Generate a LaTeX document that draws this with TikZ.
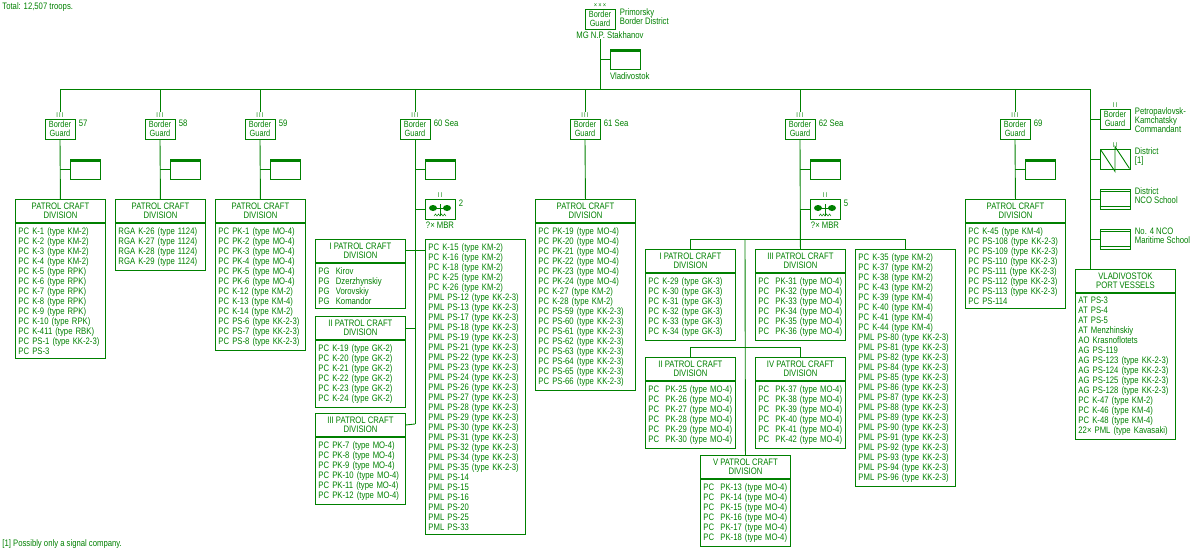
\documentclass[tikz,border=0pt]{standalone}
\usepackage{fontspec}
\setmainfont{Liberation Sans}[FakeStretch=0.82]
\usetikzlibrary{positioning}
\definecolor{pg}{HTML}{008000}
\newcommand\fsz{\fontsize{9.4}{10}\selectfont}
\newcommand\hsz{\fontsize{9.4}{9}\selectfont}
\begin{document}
\begin{tikzpicture}[x=1pt,y=-1pt,line width=0.9pt,color=pg,
  every node/.style={text=pg,font=\fsz},
  hdr/.style={draw=pg,anchor=north west,minimum width=#1,minimum height=23,inner sep=0,align=center,font=\hsz},
  lst/.style={draw=pg,anchor=north west,inner xsep=3,inner ysep=4,align=left,text width=#1-6,minimum width=#1},
  bg/.style={draw=pg,minimum width=30,minimum height=20,inner sep=0,align=center,font=\fontsize{9}{9}\selectfont},
  lvl/.style={anchor=south,inner sep=0.5,font=\fontsize{7}{7}\selectfont},
  num/.style={anchor=north west,inner sep=0},
  hq/.style={draw=pg,minimum width=30,minimum height=20,inner sep=0,
    path picture={\fill[pg] (path picture bounding box.north west) rectangle ([yshift=-3pt]path picture bounding box.north east);}},
  sym/.style={draw=pg,minimum width=30,minimum height=20,inner sep=0},
  side/.style={anchor=north west,inner sep=0,align=left,font=\fontsize{9.4}{9}\selectfont}]
\useasboundingbox (0,0) rectangle (1200,550);

\node[anchor=north west,inner sep=0] (total) at (2,2) {Total: 12,507 troops.};
\node[anchor=north west,inner sep=0] (note) at (2,539) {[1] Possibly only a signal company.};

% top HQ
\node[bg] (bgtop) at (600,19) {Border\\Guard};
\node[lvl] (lvtop) at (bgtop.north) {×\,×\,×};
\node[side] (pbd) at ([xshift=4pt]bgtop.north east) {Primorsky\\Border District};
\node[anchor=north,inner sep=0] (mg) at ([xshift=10pt,yshift=-2pt]bgtop.south) {MG N.P. Stakhanov};
\node[hq] (hqtop) at (625,59) {};
\node[anchor=north west,inner sep=0] (vlad) at ([yshift=-3pt]hqtop.south west) {Vladivostok};
\coordinate (btop) at (600,89);
\draw (mg.south -| bgtop) -- (btop);
\draw (hqtop.west -| bgtop) -- (hqtop.west);

% bus
\coordinate (b57) at (60,89); \coordinate (b58) at (160,89); \coordinate (b59) at (260,89);
\coordinate (b60) at (415,89); \coordinate (b61) at (585,89); \coordinate (b62) at (800,89);
\coordinate (b69) at (1015,89); \coordinate (bR) at (1090,89);
\draw (b57) -- (bR);

% border guard boxes
\foreach \n/\x/\t in {57/60/57,58/160/58,59/260/59,60/415/60 Sea,61/585/61 Sea,62/800/62 Sea,69/1015/69}{
  \node[bg] (bg\n) at (\x,129) {Border\\Guard};
  \node[lvl] (lv\n) at (bg\n.north) {I\,I\,I};
  \node[num] (nm\n) at ([xshift=3pt,yshift=-1pt]bg\n.north east) {\t};
  \draw (b\n) -- (lv\n.north);
}
\foreach \n/\x in {57/60,58/160,59/260,60/415,62/800,69/1015}{
  \node[hq] (hq\n) at (\x+25,169) {};
  \draw (hq\n.west -| bg\n) -- (hq\n.west);
}

% 57
\node[hdr=90] (d57h) at (15,199) {PATROL CRAFT\\DIVISION};
\node[lst=90] (d57) at (d57h.south west) {PC K-1 (type KM-2)\\PC K-2 (type KM-2)\\PC K-3 (type KM-2)\\PC K-4 (type KM-2)\\PC K-5 (type RPK)\\PC K-6 (type RPK)\\PC K-7 (type RPK)\\PC K-8 (type RPK)\\PC K-9 (type RPK)\\PC K-10 (type RPK)\\PC K-411 (type RBK)\\PC PS-1 (type KK-2-3)\\PC PS-3};
\draw (bg57.south) -- (d57h.north);
% 58
\node[hdr=90] (d58h) at (115,199) {PATROL CRAFT\\DIVISION};
\node[lst=90] (d58) at (d58h.south west) {RGA K-26 (type 1124)\\RGA K-27 (type 1124)\\RGA K-28 (type 1124)\\RGA K-29 (type 1124)};
\draw (bg58.south) -- (d58h.north);
% 59
\node[hdr=90] (d59h) at (215,199) {PATROL CRAFT\\DIVISION};
\node[lst=90] (d59) at (d59h.south west) {PC PK-1 (type MO-4)\\PC PK-2 (type MO-4)\\PC PK-3 (type MO-4)\\PC PK-4 (type MO-4)\\PC PK-5 (type MO-4)\\PC PK-6 (type MO-4)\\PC K-12 (type KM-2)\\PC K-13 (type KM-4)\\PC K-14 (type KM-2)\\PC PS-6 (type KK-2-3)\\PC PS-7 (type KK-2-3)\\PC PS-8 (type KK-2-3)};
\draw (bg59.south) -- (d59h.north);

% MBR symbols
\foreach \n/\x/\k in {60/415/2,62/800/5}{
  \node[sym] (mbr\n) at (\x+25,209) {};
  \node[lvl] (lm\n) at (mbr\n.north) {I\,I};
  \node[num] (nmb\n) at ([xshift=3pt,yshift=-1pt]mbr\n.north east) {\k};
  \node[anchor=north,inner sep=0] (mbl\n) at ([yshift=-2pt]mbr\n.south) {?× MBR};
  \fill[pg] ([xshift=-7pt,yshift=1pt]mbr\n.center) ellipse (4 and 3);
  \fill[pg] ([xshift=7pt,yshift=1pt]mbr\n.center) ellipse (4 and 3);
  \draw ([xshift=-8pt,yshift=1pt]mbr\n.center) -- ([xshift=8pt,yshift=1pt]mbr\n.center);
  \draw[line width=0.6pt] ([yshift=-7pt]mbr\n.center) -- ([yshift=5pt]mbr\n.center);
  \draw[line width=0.5pt] ([xshift=-6pt,yshift=-7pt]mbr\n.center) -- ++(1.5,-2) -- ++(1.5,2) -- ++(1.5,-2) -- ++(1.5,2) -- ++(1.5,-2) -- ++(1.5,2) -- ++(1.5,-2) -- ++(1.5,2);
  \draw (mbr\n.west -| bg\n) -- (mbr\n.west);
}

% 60 Sea
\coordinate (c60) at (415,424);
\draw (bg60.south) -- (c60);
\node[hdr=90] (d60ah) at (315,239) {I PATROL CRAFT\\DIVISION};
\node[lst=90] (d60a) at (d60ah.south west) {PG\ \ Kirov\\PG\ \ Dzerzhynskiy\\PG\ \ Vorovskiy\\PG\ \ Komandor};
\node[hdr=90] (d60bh) at (315,316) {II PATROL CRAFT\\DIVISION};
\node[lst=90] (d60b) at (d60bh.south west) {PC K-19 (type GK-2)\\PC K-20 (type GK-2)\\PC K-21 (type GK-2)\\PC K-22 (type GK-2)\\PC K-23 (type GK-2)\\PC K-24 (type GK-2)};
\node[hdr=90] (d60ch) at (315,413) {III PATROL CRAFT\\DIVISION};
\node[lst=90] (d60c) at (d60ch.south west) {PC PK-7 (type MO-4)\\PC PK-8 (type MO-4)\\PC PK-9 (type MO-4)\\PC PK-10 (type MO-4)\\PC PK-11 (type MO-4)\\PC PK-12 (type MO-4)};
\node[lst=100] (l60) at (425,239) {PC K-15 (type KM-2)\\PC K-16 (type KM-2)\\PC K-18 (type KM-2)\\PC K-25 (type KM-2)\\PC K-26 (type KM-2)\\PML PS-12 (type KK-2-3)\\PML PS-13 (type KK-2-3)\\PML PS-17 (type KK-2-3)\\PML PS-18 (type KK-2-3)\\PML PS-19 (type KK-2-3)\\PML PS-21 (type KK-2-3)\\PML PS-22 (type KK-2-3)\\PML PS-23 (type KK-2-3)\\PML PS-24 (type KK-2-3)\\PML PS-26 (type KK-2-3)\\PML PS-27 (type KK-2-3)\\PML PS-28 (type KK-2-3)\\PML PS-29 (type KK-2-3)\\PML PS-30 (type KK-2-3)\\PML PS-31 (type KK-2-3)\\PML PS-32 (type KK-2-3)\\PML PS-34 (type KK-2-3)\\PML PS-35 (type KK-2-3)\\PML PS-14\\PML PS-15\\PML PS-16\\PML PS-20\\PML PS-25\\PML PS-33};
\draw ([yshift=1pt]d60ah.east) -- ([yshift=1pt]d60ah.east -| l60.west);
\draw (d60bh.east) -- (d60bh.east -| c60);
\draw (d60ch.east) -- (c60);

% 61 Sea
\node[hdr=100] (d61h) at (535,199) {PATROL CRAFT\\DIVISION};
\node[lst=100] (d61) at (d61h.south west) {PC PK-19 (type MO-4)\\PC PK-20 (type MO-4)\\PC PK-21 (type MO-4)\\PC PK-22 (type MO-4)\\PC PK-23 (type MO-4)\\PC PK-24 (type MO-4)\\PC K-27 (type KM-2)\\PC K-28 (type KM-2)\\PC PS-59 (type KK-2-3)\\PC PS-60 (type KK-2-3)\\PC PS-61 (type KK-2-3)\\PC PS-62 (type KK-2-3)\\PC PS-63 (type KK-2-3)\\PC PS-64 (type KK-2-3)\\PC PS-65 (type KK-2-3)\\PC PS-66 (type KK-2-3)};
\draw (bg61.south) -- (d61h.north);

% 62 Sea
\node[hdr=90] (d62ah) at (645,249) {I PATROL CRAFT\\DIVISION};
\node[lst=90] (d62a) at (d62ah.south west) {PC K-29 (type GK-3)\\PC K-30 (type GK-3)\\PC K-31 (type GK-3)\\PC K-32 (type GK-3)\\PC K-33 (type GK-3)\\PC K-34 (type GK-3)};
\node[hdr=90] (d62ch) at (755,249) {III PATROL CRAFT\\DIVISION};
\node[lst=90] (d62c) at (d62ch.south west) {PC\ \ PK-31 (type MO-4)\\PC\ \ PK-32 (type MO-4)\\PC\ \ PK-33 (type MO-4)\\PC\ \ PK-34 (type MO-4)\\PC\ \ PK-35 (type MO-4)\\PC\ \ PK-36 (type MO-4)};
\node[lst=100] (l62) at (855,249) {PC K-35 (type KM-2)\\PC K-37 (type KM-2)\\PC K-38 (type KM-2)\\PC K-43 (type KM-2)\\PC K-39 (type KM-4)\\PC K-40 (type KM-4)\\PC K-41 (type KM-4)\\PC K-44 (type KM-4)\\PML PS-80 (type KK-2-3)\\PML PS-81 (type KK-2-3)\\PML PS-82 (type KK-2-3)\\PML PS-84 (type KK-2-3)\\PML PS-85 (type KK-2-3)\\PML PS-86 (type KK-2-3)\\PML PS-87 (type KK-2-3)\\PML PS-88 (type KK-2-3)\\PML PS-89 (type KK-2-3)\\PML PS-90 (type KK-2-3)\\PML PS-91 (type KK-2-3)\\PML PS-92 (type KK-2-3)\\PML PS-93 (type KK-2-3)\\PML PS-94 (type KK-2-3)\\PML PS-96 (type KK-2-3)};
\node[hdr=90] (d62bh) at (645,357) {II PATROL CRAFT\\DIVISION};
\node[lst=90] (d62b) at (d62bh.south west) {PC\ \ PK-25 (type MO-4)\\PC\ \ PK-26 (type MO-4)\\PC\ \ PK-27 (type MO-4)\\PC\ \ PK-28 (type MO-4)\\PC\ \ PK-29 (type MO-4)\\PC\ \ PK-30 (type MO-4)};
\node[hdr=90] (d62dh) at (755,357) {IV PATROL CRAFT\\DIVISION};
\node[lst=90] (d62d) at (d62dh.south west) {PC\ \ PK-37 (type MO-4)\\PC\ \ PK-38 (type MO-4)\\PC\ \ PK-39 (type MO-4)\\PC\ \ PK-40 (type MO-4)\\PC\ \ PK-41 (type MO-4)\\PC\ \ PK-42 (type MO-4)};
\node[hdr=90] (d62eh) at (700,455) {V PATROL CRAFT\\DIVISION};
\node[lst=90] (d62e) at (d62eh.south west) {PC\ \ PK-13 (type MO-4)\\PC\ \ PK-14 (type MO-4)\\PC\ \ PK-15 (type MO-4)\\PC\ \ PK-16 (type MO-4)\\PC\ \ PK-17 (type MO-4)\\PC\ \ PK-18 (type MO-4)};
\coordinate (t62) at (745,239);
\draw (bg62.south) -- (d62ch.north);
\draw (d62ah.north) -- ++(0,-10) -| (l62.north);
\draw (t62) -- (d62eh.north);
\draw (d62bh.north) -- ++(0,-10) -| (d62dh.north);

% 69
\node[hdr=100] (d69h) at (965,199) {PATROL CRAFT\\DIVISION};
\node[lst=100] (d69) at (d69h.south west) {PC K-45 (type KM-4)\\PC PS-108 (type KK-2-3)\\PC PS-109 (type KK-2-3)\\PC PS-110 (type KK-2-3)\\PC PS-111 (type KK-2-3)\\PC PS-112 (type KK-2-3)\\PC PS-113 (type KK-2-3)\\PC PS-114};
\draw (bg69.south) -- (d69h.north);

% right column
\node[hdr=100] (porth) at (1075,269) {VLADIVOSTOK\\PORT VESSELS};
\node[lst=100] (port) at (porth.south west) {AT PS-3\\AT PS-4\\AT PS-5\\AT Menzhinskiy\\AO Krasnoflotets\\AG PS-119\\AG PS-123 (type KK-2-3)\\AG PS-124 (type KK-2-3)\\AG PS-125 (type KK-2-3)\\AG PS-128 (type KK-2-3)\\PC K-47 (type KM-2)\\PC K-46 (type KM-4)\\PC K-48 (type KM-4)\\22× PML (type Kavasaki)};
\draw (bR) -- (bR |- porth.north);

\node[bg] (pet) at (1115,119) {Border\\Guard};
\node[lvl] (lvpet) at (pet.north) {I\,I};
\node[side] (petl) at ([xshift=4pt,yshift=1pt]pet.north east) {Petropavlovsk-\\Kamchatsky\\Commandant};
\node[sym] (dist) at (1115,159) {};
\node[lvl] (lvdist) at (dist.north) {I\,I};
\draw ([shift={(1pt,-1pt)}]dist.north west) -- ([yshift=-2pt]dist.south) -- ([yshift=2pt]dist.north) -- ([shift={(-1pt,1pt)}]dist.south east);
\node[side] (distl) at ([xshift=4pt,yshift=1pt]dist.north east) {District\\{[1]}};
\node[sym] (nco) at (1115,199) {};
\draw ([yshift=-3pt]nco.north west) -- ([yshift=-3pt]nco.north east);
\draw ([yshift=3pt]nco.south west) -- ([yshift=3pt]nco.south east);
\node[side] (ncol) at ([xshift=4pt,yshift=1pt]nco.north east) {District\\NCO School};
\node[sym] (mar) at (1115,239) {};
\draw ([yshift=-3pt]mar.north west) -- ([yshift=-3pt]mar.north east);
\draw ([yshift=3pt]mar.south west) -- ([yshift=3pt]mar.south east);
\node[side] (marl) at ([xshift=4pt,yshift=1pt]mar.north east) {No. 4 NCO\\Maritime School};
\foreach \s in {pet,dist,nco,mar}{ \draw (\s.west -| bR) -- (\s.west); }
\end{tikzpicture}
\end{document}
